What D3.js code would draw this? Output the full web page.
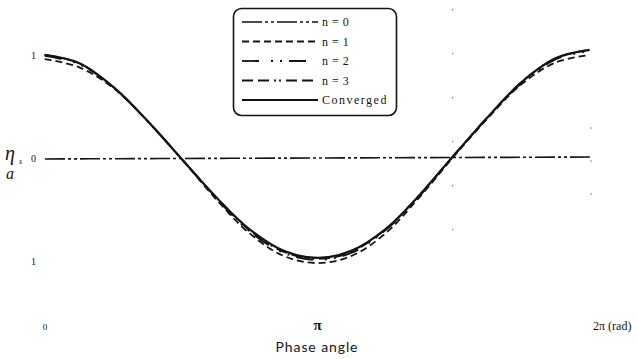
<!DOCTYPE html>
<html>
<head>
<meta charset="utf-8">
<script src="https://cdn.jsdelivr.net/npm/d3@7"></script>
<style>
  html, body { margin: 0; padding: 0; background: #fff; }
  svg { display: block; }
</style>
</head>
<body>
<svg id="chart" width="638" height="359"></svg>
<script>
// Phase samples, as multiples of pi
const phaseOverPi = [0, 0.125, 0.25, 0.375, 0.5, 0.625, 0.75, 0.875, 1,
                     1.125, 1.25, 1.375, 1.5, 1.625, 1.75, 1.875, 2];

// Normalised surface elevation for each iteration
const n0 = [0, 0, 0, 0, 0, 0, 0, 0, 0, 0, 0, 0, 0, 0, 0, 0, 0];
const n1 = [0.97, 0.89, 0.69, 0.37, 0.00, -0.39, -0.73, -0.95, -1.02,
            -0.95, -0.73, -0.38, 0.01, 0.38, 0.71, 0.92, 0.99];
const n2 = [1.00, 0.92, 0.70, 0.37, 0.00, -0.38, -0.71, -0.92, -0.99,
            -0.92, -0.70, -0.37, 0.02, 0.39, 0.72, 0.95, 1.03];
const n3 = [1.01, 0.93, 0.70, 0.37, 0.00, -0.37, -0.70, -0.91, -0.98,
            -0.91, -0.69, -0.36, 0.02, 0.39, 0.73, 0.96, 1.04];
const converged = [1.01, 0.93, 0.70, 0.37, 0.00, -0.37, -0.69, -0.90, -0.97,
                   -0.90, -0.69, -0.36, 0.02, 0.39, 0.73, 0.96, 1.04];

const seriesNames = ["n = 0", "n = 1", "n = 2", "n = 3", "Converged"];
const seriesDash = ["20,3,3,3,3,3", "7,4", "17,12,2,7,2,7", "11,5,11,5,2,3,2,5", null];
const seriesWidth = [1.6, 1.8, 1.8, 1.8, 2.2];

const yTickValues = [1, 0, -1];
const yTickLabels = ["1", "0", "1"];
const xTickValues = [0, Math.PI, 2 * Math.PI];
const xTickLabels = ["0", "π", "2π (rad)"];

const svg = d3.select("#chart");
const ink = "#141414";

const x = d3.scaleLinear().domain([0, 2 * Math.PI]).range([45, 590]);
const y = d3.scaleLinear().domain([-1, 1]).range([261, 55]);

const allSeries = [n0, n1, n2, n3, converged];

// faint guide marks at 3pi/2 and 2pi
const guides = svg.append("g").attr("stroke", "#8a8a8a").attr("stroke-width", 1);
guides.append("line")
  .attr("x1", x(1.5 * Math.PI) - 1).attr("x2", x(1.5 * Math.PI) - 1)
  .attr("y1", y(1.45)).attr("y2", y(-1.0))
  .attr("stroke-dasharray", "2,42");
guides.append("line")
  .attr("x1", x(2 * Math.PI) + 1).attr("x2", x(2 * Math.PI) + 1)
  .attr("y1", y(0.3)).attr("y2", y(-0.55))
  .attr("stroke-dasharray", "2,31");

const line = d3.line()
  .x((d, i) => x(phaseOverPi[i] * Math.PI))
  .y(d => y(d))
  .curve(d3.curveCatmullRom.alpha(0.5));

const plot = svg.append("g").attr("transform", "rotate(-0.2 318 158)");
allSeries.forEach((s, i) => {
  plot.append("path")
    .datum(s)
    .attr("d", line)
    .attr("fill", "none")
    .attr("stroke", ink)
    .attr("stroke-width", seriesWidth[i])
    .attr("stroke-dasharray", seriesDash[i]);
});

// y tick labels
const serif = "'Liberation Serif', 'DejaVu Serif', serif";
svg.append("g").selectAll("text")
  .data(yTickValues)
  .join("text")
  .attr("x", 36)
  .attr("y", d => y(d) + 4)
  .attr("text-anchor", "end")
  .attr("font-family", serif)
  .attr("font-size", 10)
  .attr("fill", ink)
  .text((d, i) => yTickLabels[i]);

// x tick labels
svg.append("g").selectAll("text")
  .data(xTickValues)
  .join("text")
  .attr("x", (d, i) => i === 2 ? x(d) + 3 : x(d))
  .attr("y", 330)
  .attr("text-anchor", (d, i) => i === 2 ? "start" : "middle")
  .attr("font-family", serif)
  .attr("font-size", (d, i) => i === 0 ? 9 : (i === 1 ? 15 : 12))
  .attr("font-weight", (d, i) => i === 1 ? "bold" : "normal")
  .attr("fill", ink)
  .text((d, i) => xTickLabels[i]);

// x axis title
svg.append("text")
  .attr("x", 317).attr("y", 352)
  .attr("text-anchor", "middle")
  .attr("font-family", "Lato, 'Open Sans', sans-serif")
  .attr("font-size", 14)
  .attr("letter-spacing", 0.9)
  .attr("fill", ink)
  .text("Phase angle");

// y axis symbol: eta_s over a
const ylab = svg.append("g").attr("fill", ink).attr("font-family", serif).attr("font-style", "italic");
ylab.append("text").attr("x", 5).attr("y", 160).attr("font-size", 20).text("η");
ylab.append("text").attr("x", 19).attr("y", 164).attr("font-size", 8).text("s");
ylab.append("text").attr("x", 6).attr("y", 179).attr("font-size", 16).text("a");

// legend
const legend = svg.append("g");
legend.append("rect")
  .attr("x", 233.5).attr("y", 8.5)
  .attr("width", 163).attr("height", 107)
  .attr("rx", 8).attr("ry", 8)
  .attr("fill", "#fff")
  .attr("stroke", ink).attr("stroke-width", 1.6);

const rowY = d3.scalePoint().domain(seriesNames).range([22, 100]);
seriesNames.forEach((name, i) => {
  const yy = rowY(name);
  legend.append("line")
    .attr("x1", 242).attr("x2", 318)
    .attr("y1", yy).attr("y2", yy)
    .attr("stroke", ink)
    .attr("stroke-width", seriesWidth[i])
    .attr("stroke-dasharray", seriesDash[i]);
  legend.append("text")
    .attr("x", 322).attr("y", yy + 4)
    .attr("font-family", serif)
    .attr("font-size", 12)
    .attr("letter-spacing", name === "Converged" ? 1.5 : 0.5)
    .attr("fill", ink)
    .text(name);
});
</script>
</body>
</html>
